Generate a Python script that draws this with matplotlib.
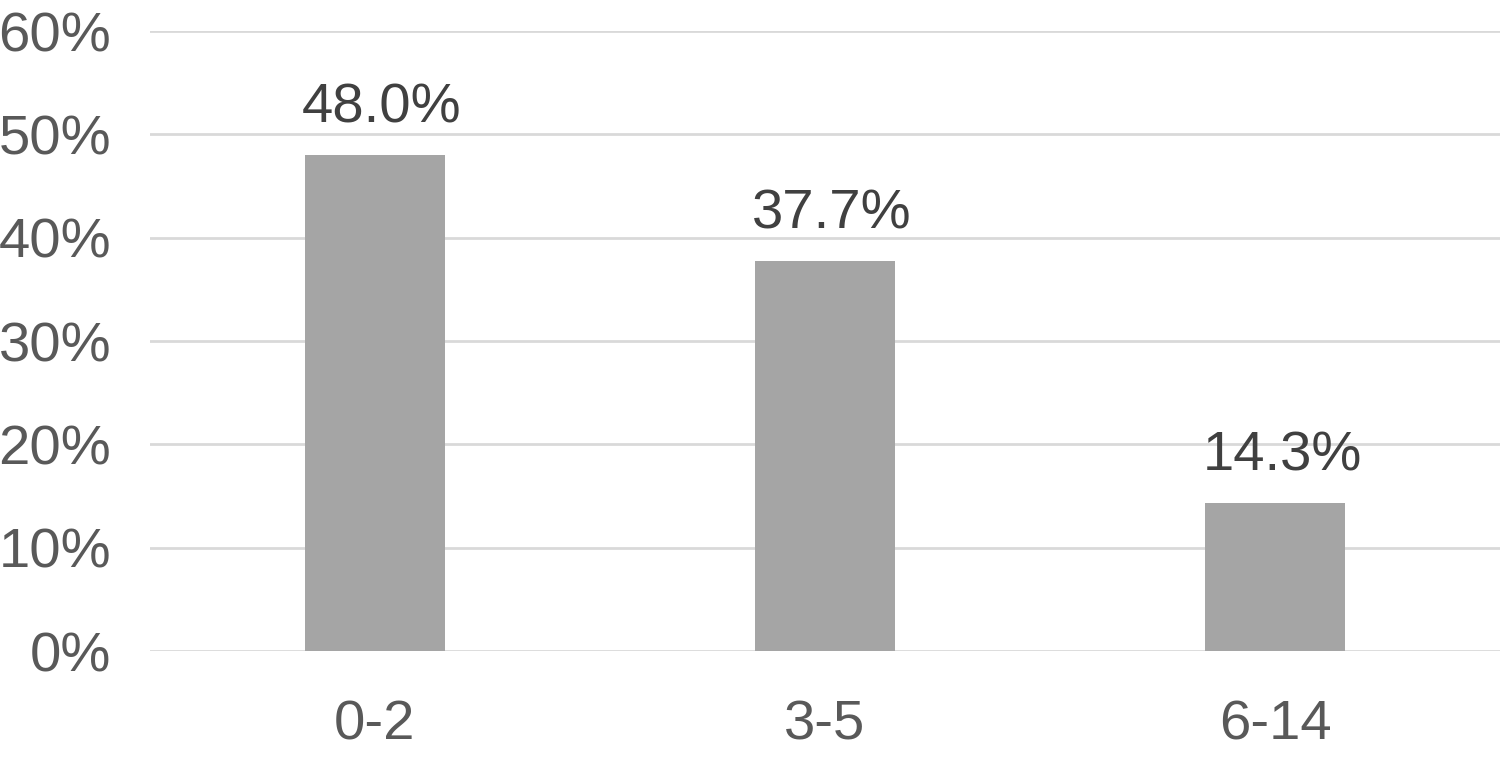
import matplotlib.pyplot as plt
from matplotlib.ticker import FuncFormatter

# data
categories = ["0-2", "3-5", "6-14"]
shares = [48.0, 37.7, 14.3]
y_ticks = [0, 10, 20, 30, 40, 50, 60]

plt.rcParams["font.family"] = ["Liberation Sans", "DejaVu Sans"]

fig = plt.figure(figsize=(15, 7.69), dpi=100)
ax = fig.add_axes([0.1, 1 - 651 / 769, 0.9, (651 - 31) / 769])

x = range(len(categories))
bars = ax.bar(x, shares, width=0.313, color="#A5A5A5", zorder=3)

for rect, val in zip(bars, shares):
    ax.annotate(f"{val:.1f}%", (rect.get_x() + rect.get_width() / 2, rect.get_height()),
                xytext=(5, 15), textcoords="offset points", ha="center", va="bottom",
                fontsize=40.5, color="#404040")

ax.set_xlim(-0.5, 2.5)
ax.set_ylim(0, 60)
ax.set_xticks(list(x))
ax.set_xticklabels(categories)
ax.set_yticks(y_ticks)
ax.yaxis.set_major_formatter(FuncFormatter(lambda v, _: f"{v:.0f}%"))

ax.grid(axis="y", color="#D9D9D9", linewidth=2, zorder=0)
ax.tick_params(axis="both", length=0, labelsize=40.5, labelcolor="#595959")
ax.tick_params(axis="x", pad=35)
ax.tick_params(axis="y", pad=28)
for s in ax.spines.values():
    s.set_visible(False)

fig.savefig("out.png", dpi=100)
